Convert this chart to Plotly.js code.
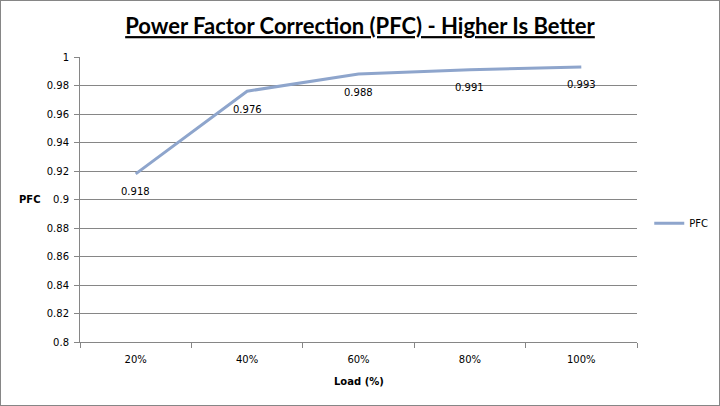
<!DOCTYPE html>
<html><head><meta charset="utf-8">
<script src="https://cdn.plot.ly/plotly-3.0.1.min.js"></script>
<style>
html,body{margin:0;padding:0;background:#fff;}
#chart{width:720px;height:406px;outline:1px solid #868686;outline-offset:-1px;}
</style></head>
<body><div id="chart"></div>
<script>
const categories = ["20%", "40%", "60%", "80%", "100%"];
const pfcValues = [0.918, 0.976, 0.988, 0.991, 0.993];
const pfcLabels = ["0.918", "0.976", "0.988", "0.991", "0.993"];
const seriesName = "PFC";

const trace = {
  x: categories, y: pfcValues, type: "scatter", mode: "lines",
  name: seriesName, line: {color: "#8EA5CC", width: 3}, cliponaxis: false
};

const labelAnnotations = categories.map((c, i) => ({
  x: c, y: pfcValues[i], xref: "x", yref: "y", text: pfcLabels[i], showarrow: false,
  yshift: -18, xanchor: "center", yanchor: "middle",
  font: {family: "DejaVu Sans", size: 10, color: "#000"}
}));

const layout = {
  width: 720, height: 406,
  margin: {l: 80, r: 83, t: 57, b: 64, autoexpand: false},
  paper_bgcolor: "rgba(0,0,0,0)", plot_bgcolor: "#fff",
  title: {text: "<b><u>Power Factor Correction (PFC) - Higher Is Better</u></b>",
    font: {family: "Lato", size: 22, color: "#000"}, x: 0.5, xanchor: "center", y: 0.935, yanchor: "middle"},
  xaxis: {type: "category", range: [-0.5, 4.5], tickson: "boundaries", ticks: "outside", ticklen: 5, tickcolor: "#868686",
    showline: true, linecolor: "#868686", linewidth: 1, showgrid: false, zeroline: false, ticklabelstandoff: 8,
    tickfont: {family: "DejaVu Sans", size: 10, color: "#000"}, fixedrange: true},
  yaxis: {range: [0.8, 1], dtick: 0.02, ticks: "outside", ticklen: 5, tickcolor: "#868686",
    showline: true, linecolor: "#868686", linewidth: 1, showgrid: true, gridcolor: "#868686", gridwidth: 1,
    zeroline: false, ticklabelstandoff: 3, tickfont: {family: "DejaVu Sans", size: 10, color: "#000"}, fixedrange: true},
  showlegend: true,
  legend: {x: 1.022, xanchor: "left", y: 0.417, yanchor: "middle", font: {family: "DejaVu Sans", size: 10, color: "#000"},
    itemwidth: 30, bgcolor: "rgba(0,0,0,0)"},
  annotations: labelAnnotations.concat([
    {text: "<b>PFC</b>", xref: "paper", yref: "paper", x: -0.0898, y: 0.5, xanchor: "center", yanchor: "middle",
      showarrow: false, font: {family: "DejaVu Sans", size: 10, color: "#000"}},
    {text: "<b>Load (%)</b>", xref: "paper", yref: "paper", x: 0.5, y: 0, yshift: -39, xanchor: "center", yanchor: "middle",
      showarrow: false, font: {family: "DejaVu Sans", size: 10, color: "#000"}}
  ])
};
Plotly.newPlot("chart", [trace], layout, {displayModeBar: false, staticPlot: true});
</script></body></html>
